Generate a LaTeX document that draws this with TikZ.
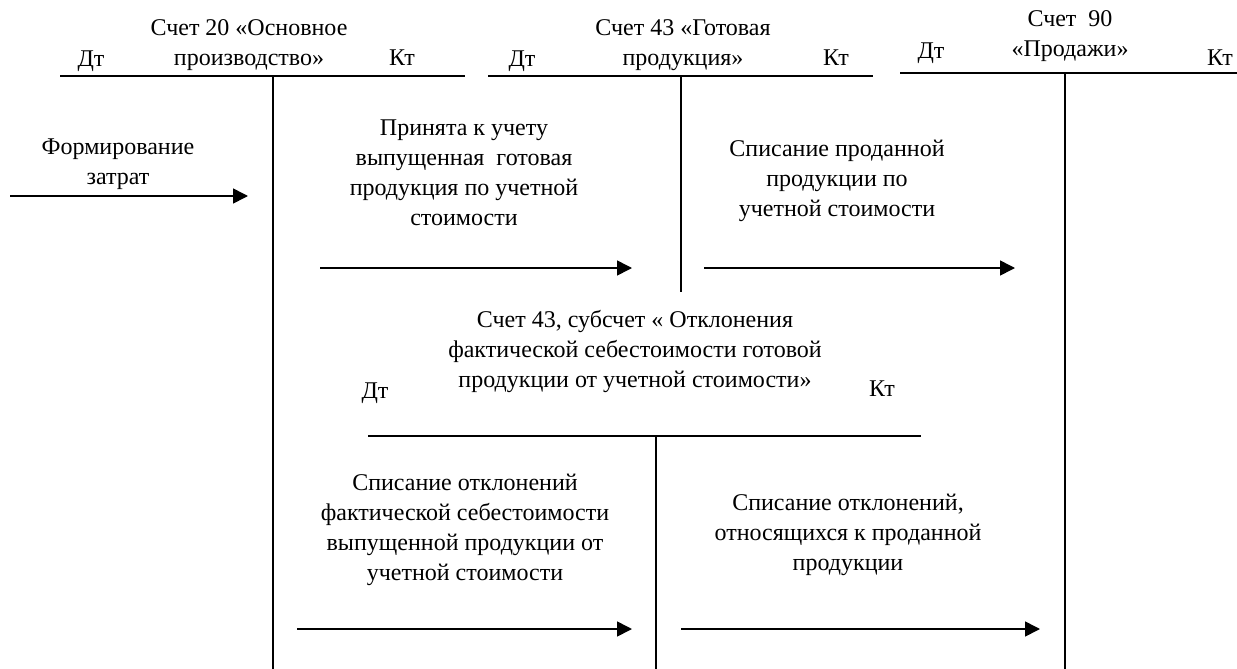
\documentclass[tikz,border=0pt]{standalone}
\usepackage{fontspec}
\setmainfont{Liberation Serif}
\usetikzlibrary{arrows.meta}
\tikzset{
    acc/.style={line width=1pt},
    post/.style={line width=0.8pt,-{Triangle[length=7.5pt,width=7.5pt]}},
    txt/.style={align=center,inner sep=0pt,font=\fontsize{12}{15}\selectfont},
    dk/.style={anchor=base,inner sep=0pt,font=\fontsize{12}{15}\selectfont}
}
\begin{document}
\begin{tikzpicture}
    [x=0.5pt,y=-0.5pt]
    \useasboundingbox (0,0) rectangle (1237,669);
    %account 20
    \coordinate (a20l) at (60,76);
    \coordinate (a20r) at (465,76);
    \coordinate (a20t) at (273,76);
    \coordinate (a20b) at (273,669);
    \draw[acc] (a20l)--(a20r);
    \draw[acc] (a20t)--(a20b);
    \node[txt] (t20) at (249,45) {Счет 20 «Основное\\производство»};
    \node[dk] (d20) at (91,66) {Дт};
    \node[dk] (k20) at (402,65) {Кт};
    %account 43
    \coordinate (a43l) at (488,76);
    \coordinate (a43r) at (873,76);
    \coordinate (a43t) at (681,76);
    \coordinate (a43b) at (681,292);
    \draw[acc] (a43l)--(a43r);
    \draw[acc] (a43t)--(a43b);
    \node[txt] (t43) at (683,45) {Счет 43 «Готовая\\продукция»};
    \node[dk] (d43) at (522,66) {Дт};
    \node[dk] (k43) at (836,65) {Кт};
    %account 90
    \coordinate (a90l) at (900,73);
    \coordinate (a90r) at (1237,73);
    \coordinate (a90t) at (1065,73);
    \coordinate (a90b) at (1065,669);
    \draw[acc] (a90l)--(a90r);
    \draw[acc] (a90t)--(a90b);
    \node[txt] (t90) at (1070,36) {Счет~ 90\\«Продажи»};
    \node[dk] (d90) at (931,58) {Дт};
    \node[dk] (k90) at (1220,65) {Кт};
    %subaccount 43
    \coordinate (sbl) at (368,436);
    \coordinate (sbr) at (921,436);
    \coordinate (sbt) at (656,436);
    \coordinate (sbb) at (656,669);
    \draw[acc] (sbl)--(sbr);
    \draw[acc] (sbt)--(sbb);
    \node[txt] (tsb) at (635,351) {Счет 43, субсчет « Отклонения\\фактической себестоимости готовой\\продукции от учетной стоимости»};
    \node[dk] (dsb) at (375,398) {Дт};
    \node[dk] (ksb) at (882,396) {Кт};
    %entries
    \node[txt] (n0) at (118,164) {Формирование\\затрат};
    \coordinate (s0) at (10,196);
    \coordinate (e0) at (248,196);
    \draw[post] (s0)--(e0);
    \node[txt] (n1) at (464,173) {Принята к учету\\выпущенная~ готовая\\продукция по учетной\\стоимости};
    \coordinate (s1) at (320,268);
    \coordinate (e1) at (632,268);
    \draw[post] (s1)--(e1);
    \node[txt] (n2) at (837,181) {Списание проданной\\продукции по\\учетной стоимости};
    \coordinate (s2) at (704,268);
    \coordinate (e2) at (1015,268);
    \draw[post] (s2)--(e2);
    \node[txt] (n3) at (465,530) {Списание отклонений\\фактической себестоимости\\выпущенной продукции от\\учетной стоимости};
    \coordinate (s3) at (297,629);
    \coordinate (e3) at (632,629);
    \draw[post] (s3)--(e3);
    \node[txt] (n4) at (848,535) {Списание отклонений,\\относящихся к проданной\\продукции};
    \coordinate (s4) at (681,629);
    \coordinate (e4) at (1040,629);
    \draw[post] (s4)--(e4);
\end{tikzpicture}
\end{document}
